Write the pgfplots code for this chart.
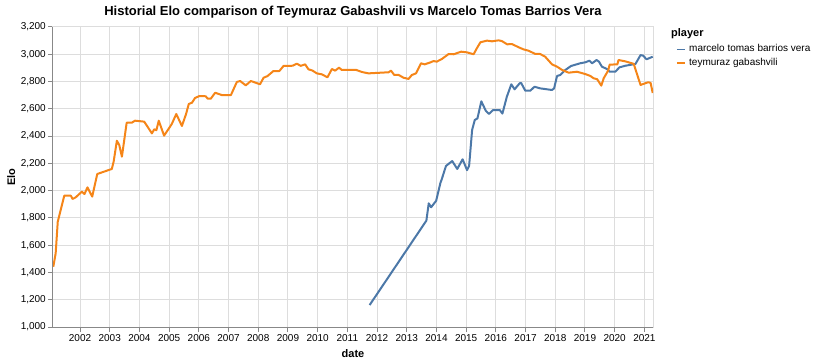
\documentclass[border=0pt]{standalone}
\usepackage{pgfplots}
\pgfplotsset{compat=1.18}
\usepackage{fontspec}
\setmainfont{Liberation Sans}
\definecolor{vblue}{HTML}{4C78A8}
\definecolor{vorange}{HTML}{F58518}
\definecolor{gridc}{HTML}{DDDDDD}
\definecolor{axc}{HTML}{888888}

\pgfplotstableread{
year elo
2011.75 1161
2013.66 1780
2013.74 1907
2013.82 1878
2013.99 1926
2014.13 2054
2014.18 2085
2014.32 2181
2014.53 2217
2014.70 2159
2014.88 2230
2015.03 2150
2015.10 2183
2015.20 2445
2015.29 2518
2015.38 2530
2015.51 2655
2015.66 2586
2015.77 2562
2015.90 2590
2016.13 2591
2016.22 2565
2016.37 2689
2016.52 2780
2016.63 2743
2016.80 2787
2016.85 2790
2016.99 2733
2017.16 2733
2017.30 2762
2017.49 2750
2017.89 2738
2017.96 2750
2018.06 2841
2018.17 2848
2018.34 2885
2018.53 2914
2018.84 2934
2019.01 2941
2019.15 2953
2019.24 2934
2019.39 2958
2019.47 2946
2019.57 2909
2019.74 2892
2019.83 2872
2020.02 2872
2020.16 2904
2020.36 2916
2020.70 2929
2020.87 2994
2020.96 2990
2021.07 2963
2021.28 2982
}\barrios

\pgfplotstableread{
year elo
2001.10 1442
2001.18 1540
2001.25 1772
2001.47 1963
2001.69 1963
2001.75 1939
2001.85 1950
2002.06 1992
2002.15 1975
2002.25 2024
2002.41 1956
2002.58 2122
2003.07 2159
2003.13 2210
2003.24 2366
2003.32 2335
2003.41 2249
2003.57 2498
2003.74 2498
2003.85 2513
2004.16 2506
2004.42 2420
2004.50 2450
2004.57 2443
2004.65 2513
2004.83 2403
2005.09 2489
2005.24 2562
2005.43 2474
2005.57 2562
2005.66 2635
2005.77 2645
2005.87 2679
2006.02 2694
2006.23 2692
2006.30 2674
2006.40 2674
2006.55 2718
2006.77 2701
2007.08 2701
2007.28 2797
2007.39 2804
2007.58 2772
2007.75 2804
2008.06 2780
2008.18 2828
2008.31 2840
2008.51 2877
2008.71 2877
2008.85 2914
2009.16 2916
2009.30 2931
2009.43 2915
2009.58 2926
2009.69 2890
2009.83 2880
2009.97 2860
2010.14 2853
2010.33 2831
2010.48 2892
2010.59 2880
2010.72 2902
2010.81 2885
2011.30 2885
2011.49 2870
2011.71 2860
2012.39 2868
2012.47 2880
2012.58 2848
2012.73 2848
2012.89 2828
2013.06 2819
2013.17 2848
2013.31 2860
2013.48 2934
2013.60 2926
2013.79 2940
2013.90 2950
2014.01 2946
2014.18 2965
2014.41 3002
2014.58 3000
2014.83 3019
2015.03 3014
2015.25 3000
2015.36 3044
2015.48 3088
2015.70 3100
2015.87 3095
2016.09 3102
2016.20 3097
2016.38 3073
2016.54 3075
2016.77 3051
2016.93 3036
2017.10 3026
2017.33 3002
2017.49 3002
2017.66 2982
2017.89 2926
2018.06 2909
2018.23 2885
2018.45 2865
2018.73 2872
2019.01 2855
2019.18 2841
2019.29 2824
2019.41 2817
2019.55 2770
2019.63 2824
2019.78 2880
2019.83 2924
2020.09 2926
2020.13 2958
2020.36 2948
2020.64 2930
2020.87 2775
2021.13 2795
2021.21 2790
2021.28 2716
}\gabashvili

\begin{document}
\begin{tikzpicture}[x=1pt,y=1pt]
\path[use as bounding box] (-53,-37) rectangle (761,327);
\begin{axis}[
  at={(0,0)}, anchor=south west,
  scale only axis, width=600pt, height=300pt,
  clip mode=individual,
  xmin=2001.09, xmax=2021.29, ymin=1000, ymax=3200,
  xtick={2002,2003,...,2021},
  ytick={1000,1200,...,3200},
  /pgf/number format/assume math mode=true,
  x tick label style={/pgf/number format/1000 sep=, inner sep=2pt},
  y tick label style={/pgf/number format/1000 sep={,}, inner sep=2pt},
  tick label style={font=\fontsize{10}{12}\selectfont, text=black},
  grid=major,
  major grid style={gridc, line width=1pt},
  axis line style={gridc, line width=1pt},
  tick align=outside, xtick pos=left, ytick pos=left,
  major tick length=5pt,
  tick style={axc, line width=1pt},
  xlabel={date},
  xlabel style={at={(axis description cs:0.5,-0.1033)}, anchor=base, font=\bfseries\fontsize{11}{13}\selectfont},
  ylabel={Elo},
  ylabel style={at={(axis description cs:-0.0633,0.5)}, anchor=base, rotate=0, font=\bfseries\fontsize{11}{13}\selectfont},
  legend style={at={(axis description cs:1.0383,0.9443)}, anchor=north west, draw=none, fill=none,
    inner sep=0pt, row sep=2.4pt, column sep=3.5pt,
    font=\fontsize{10}{12}\selectfont,
    nodes={inner sep=0pt, text height=8pt, text depth=3pt, anchor=west}},
  legend cell align=left,
  legend image code/.code={\draw[#1, line width=1.5pt] (0pt,0pt) -- (8pt,0pt);},
]
\addplot[vblue, line width=2pt, line join=round] table[x=year, y=elo] {\barrios};
\addlegendentry{marcelo tomas barrios vera}
\addplot[vorange, line width=2pt, line join=round] table[x=year, y=elo] {\gabashvili};
\addlegendentry{teymuraz gabashvili}
\draw[axc, line width=1pt] (axis description cs:0,1) -- (axis description cs:0,0) -- (axis description cs:1,0);
\node[anchor=base west, inner sep=0pt, font=\bfseries\fontsize{11}{13}\selectfont] at (axis description cs:1.03,0.9683) {player};
\node[anchor=base, inner sep=0pt, font=\bfseries\fontsize{13}{15}\selectfont] at (axis description cs:0.5,1.0383) {Historial Elo comparison of Teymuraz Gabashvili vs Marcelo Tomas Barrios Vera};
\end{axis}
\end{tikzpicture}
\end{document}
